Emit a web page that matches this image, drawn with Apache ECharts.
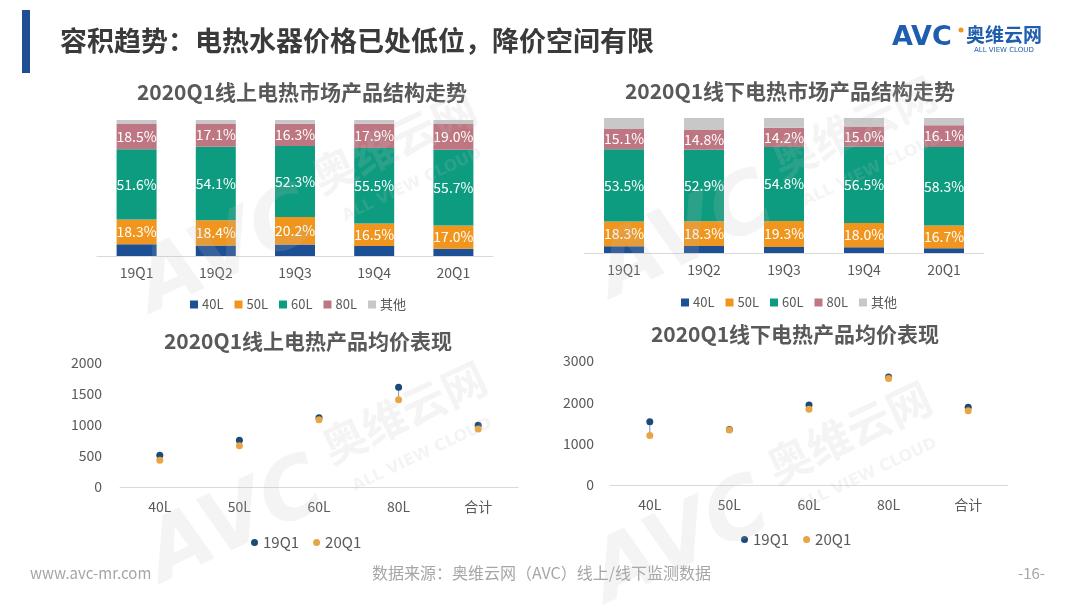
<!DOCTYPE html>
<html><head><meta charset="utf-8">
<script src="https://cdn.jsdelivr.net/npm/echarts@6/dist/echarts.min.js"></script>
<style>html,body{margin:0;padding:0;background:#fff}#c{width:1080px;height:608px}</style>
</head><body><div id="c"></div>
<script>
var quarters = ['19Q1','19Q2','19Q3','19Q4','20Q1'];
var sizeNames = ['40L','50L','60L','80L','其他'];
// online structure (%)
var on40 = [8.6, 7.8, 8.4, 7.4, 5.4];
var on50 = [18.3, 18.4, 20.2, 16.5, 17.0];
var on60 = [51.6, 54.1, 52.3, 55.5, 55.7];
var on80 = [18.5, 17.1, 16.3, 17.9, 19.0];
var onOther = [3.0, 2.6, 2.8, 2.7, 2.9];
// offline structure (%)
var off40 = [5.0, 5.2, 4.4, 4.2, 3.6];
var off50 = [18.3, 18.3, 19.3, 18.0, 16.7];
var off60 = [53.5, 52.9, 54.8, 56.5, 58.3];
var off80 = [15.1, 14.8, 14.2, 15.0, 16.1];
var offOther = [8.1, 8.8, 7.3, 6.3, 5.3];
// average prices
var priceCats = ['40L','50L','60L','80L','合计'];
var onP19 = [511, 753, 1118, 1608, 995];
var onP20 = [430, 667, 1086, 1409, 935];
var offP19 = [1528, 1340, 1938, 2614, 1882];
var offP20 = [1198, 1330, 1834, 2574, 1794];
var onTicks = [0, 2000, 500];
var offTicks = [0, 3000, 1000];

var C40 = '#1C4F94', C50 = '#F0961E', C60 = '#0E9C80', C80 = '#BE7782', COT = '#C8C8C8';
var S19 = '#1B4A7A', S20 = '#E9A544';
var FONT = '"Noto Sans CJK SC","Microsoft YaHei",sans-serif';

function barSeries(name, data, color, idx, label) {
  return {
    name: name, type: 'bar', stack: 's' + idx, xAxisIndex: idx, yAxisIndex: idx,
    data: data, barWidth: 40,
    itemStyle: {color: color},
    label: label ? {show: true, position: 'inside', color: '#fff', fontSize: 14, fontFamily: FONT,
      formatter: function (p) { return p.value.toFixed(1) + '%'; }} : {show: false}
  };
}
function scatterSeries(name, data, color, idx) {
  return {name: name, type: 'scatter', xAxisIndex: idx, yAxisIndex: idx, data: data,
    symbolSize: 7, itemStyle: {color: color, opacity: 1}, z: 5};
}
function linkSeries(a, b, idx) {
  var d = a.map(function (v, i) { return [i, v, b[i]]; });
  return {type: 'custom', xAxisIndex: idx, yAxisIndex: idx, data: d, silent: true, z: 3,
    renderItem: function (params, api) {
      var p1 = api.coord([api.value(0), api.value(1)]);
      var p2 = api.coord([api.value(0), api.value(2)]);
      return {type: 'line', shape: {x1: p1[0], y1: p1[1], x2: p2[0], y2: p2[1]},
        style: {stroke: '#7f93ad', lineWidth: 1}};
    }};
}
function wm(x, y) {
  var col = 'rgba(190,190,190,0.17)';
  return [
    {type: 'text', x: x, y: y, rotation: 0.44, z: 100, silent: true,
      style: {text: 'AVC', font: 'italic bold 84px "DejaVu Sans",sans-serif', fill: col}},
    {type: 'text', x: x + 180, y: y - 95, rotation: 0.44, z: 100, silent: true,
      style: {text: '奥维云网', font: 'bold 44px ' + FONT, fill: col}},
    {type: 'text', x: x + 215, y: y - 45, rotation: 0.44, z: 100, silent: true,
      style: {text: 'ALL VIEW CLOUD', font: 'bold 16px "DejaVu Sans",sans-serif', fill: col}}
  ];
}

var chart = echarts.init(document.getElementById('c'));
var axisLbl = {color: '#595959', fontSize: 14, fontFamily: FONT};
var titleStyle = {fontSize: 21, fontWeight: 'bold', color: '#595959', fontFamily: FONT};
var legSq = {itemWidth: 8, itemHeight: 8, itemGap: 11, icon: 'rect', selectedMode: false,
  textStyle: {color: '#595959', fontSize: 13, fontFamily: FONT, padding: [0, 0, 0, -1]}};
var legDot = {itemWidth: 7, itemHeight: 7, itemGap: 14, icon: 'circle', selectedMode: false,
  textStyle: {color: '#595959', fontSize: 15, fontFamily: FONT}};
var option = {
  animation: false,
  textStyle: {fontFamily: FONT},
  title: [
    {text: '2020Q1线上电热市场产品结构走势', left: 297, top: 77, textAlign: 'center', textStyle: titleStyle},
    {text: '2020Q1线下电热市场产品结构走势', left: 785, top: 76, textAlign: 'center', textStyle: titleStyle},
    {text: '2020Q1线上电热产品均价表现', left: 303, top: 326, textAlign: 'center', textStyle: titleStyle},
    {text: '2020Q1线下电热产品均价表现', left: 790, top: 319, textAlign: 'center', textStyle: titleStyle}
  ],
  legend: [
    Object.assign({data: sizeNames, left: 185, top: 293}, legSq),
    Object.assign({data: sizeNames, left: 676, top: 291}, legSq),
    Object.assign({data: ['19Q1', '20Q1'], left: 246, top: 530}, legDot),
    Object.assign({data: ['19Q1', '20Q1'], left: 736, top: 527}, legDot)
  ],
  grid: [
    {left: 97, top: 120, width: 396, height: 136},
    {left: 584, top: 118, width: 400, height: 135},
    {left: 120, top: 363, width: 398, height: 124},
    {left: 610, top: 361, width: 398, height: 124}
  ],
  xAxis: [0, 1, 2, 3].map(function (i) {
    return {type: 'category', gridIndex: i, data: i < 2 ? quarters : priceCats,
      axisLine: {show: true, lineStyle: {color: '#d9d9d9'}}, axisTick: {show: false},
      axisLabel: Object.assign({}, axisLbl, {margin: i < 2 ? 10 : 13})};
  }),
  yAxis: [
    {type: 'value', gridIndex: 0, min: 0, max: 100, show: false},
    {type: 'value', gridIndex: 1, min: 0, max: 100, show: false},
    {type: 'value', gridIndex: 2, min: onTicks[0], max: onTicks[1], interval: onTicks[2],
      splitLine: {show: false}, axisLine: {show: false}, axisTick: {show: false},
      axisLabel: Object.assign({}, axisLbl, {fontSize: 14, margin: 18, formatter: function (v) { return String(v); }})},
    {type: 'value', gridIndex: 3, min: offTicks[0], max: offTicks[1], interval: offTicks[2],
      splitLine: {show: false}, axisLine: {show: false}, axisTick: {show: false},
      axisLabel: Object.assign({}, axisLbl, {fontSize: 14, margin: 16, formatter: function (v) { return String(v); }})}
  ],
  series: [
    barSeries('40L', on40, C40, 0, false),
    barSeries('50L', on50, C50, 0, true),
    barSeries('60L', on60, C60, 0, true),
    barSeries('80L', on80, C80, 0, true),
    barSeries('其他', onOther, COT, 0, false),
    barSeries('40L', off40, C40, 1, false),
    barSeries('50L', off50, C50, 1, true),
    barSeries('60L', off60, C60, 1, true),
    barSeries('80L', off80, C80, 1, true),
    barSeries('其他', offOther, COT, 1, false),
    linkSeries(onP19, onP20, 2),
    scatterSeries('19Q1', onP19, S19, 2),
    scatterSeries('20Q1', onP20, S20, 2),
    linkSeries(offP19, offP20, 3),
    scatterSeries('19Q1', offP19, S19, 3),
    scatterSeries('20Q1', offP20, S20, 3)
  ],
  graphic: [
    {type: 'rect', shape: {x: 22, y: 10, width: 8, height: 63}, style: {fill: '#1F4E94'}},
    {type: 'text', left: 60, top: 27, style: {text: '容积趋势：电热水器价格已处低位，降价空间有限',
      font: 'bold 27px ' + FONT, fill: '#3a3a3a'}},
    {type: 'text', left: 892, top: 24, style: {text: 'AVC', font: 'bold 27px "DejaVu Sans",sans-serif', fill: '#1F5DAE'}},
    {type: 'circle', shape: {cx: 961, cy: 30, r: 2.5}, style: {fill: '#F0961E'}},
    {type: 'text', left: 966, top: 25, style: {text: '奥维云网', font: 'bold 19px ' + FONT, fill: '#1F5DAE'}},
    {type: 'text', left: 974, top: 47, style: {text: 'ALL VIEW CLOUD', font: '7px "DejaVu Sans",sans-serif', fill: '#1F5DAE'}}
  ].concat(wm(125, 255), wm(585, 240), wm(135, 525), wm(580, 545)).concat([
    {type: 'text', left: 30, top: 566, style: {text: 'www.avc-mr.com', font: '15px ' + FONT, fill: '#a6a6a6'}},
    {type: 'text', left: 372, top: 565, style: {text: '数据来源：奥维云网（AVC）线上/线下监测数据', font: '16px ' + FONT, fill: '#a6a6a6'}},
    {type: 'text', left: 1018, top: 566, style: {text: '-16-', font: '15px ' + FONT, fill: '#a6a6a6'}}
  ])
};
chart.setOption(option);
</script></body></html>
